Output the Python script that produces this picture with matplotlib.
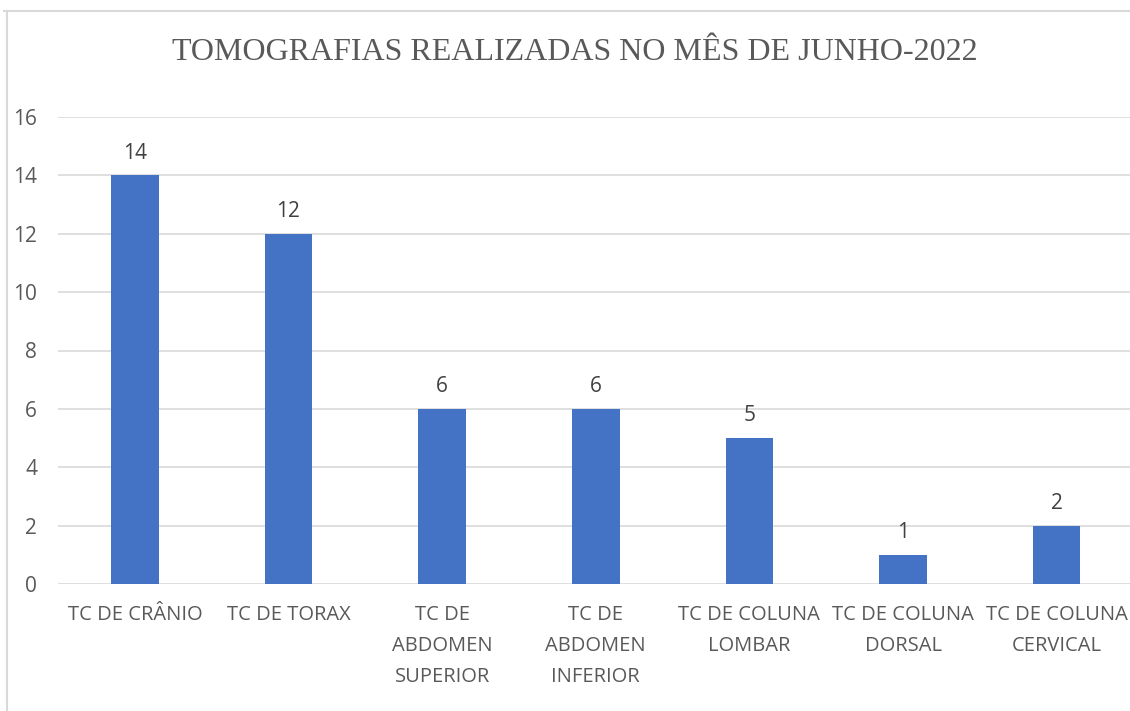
import matplotlib
matplotlib.use("Agg")
import matplotlib.pyplot as plt
from matplotlib.lines import Line2D

categories = ["TC DE CRÂNIO", "TC DE TORAX", "TC DE\nABDOMEN\nSUPERIOR", "TC DE\nABDOMEN\nINFERIOR",
              "TC DE COLUNA\nLOMBAR", "TC DE COLUNA\nDORSAL", "TC DE COLUNA\nCERVICAL"]
values = [14, 12, 6, 6, 5, 1, 2]
yticks = [0, 2, 4, 6, 8, 10, 12, 14, 16]
title = "TOMOGRAFIAS REALIZADAS NO MÊS DE JUNHO-2022"

W, H = 1130, 711
fig = plt.figure(figsize=(W / 100, H / 100), dpi=100)
fig.patch.set_facecolor("white")

# chart border (light gray)
fig.add_artist(Line2D([7 / W, 7 / W], [0, 1 - 11 / H], color="#D9D9D9", lw=1.5, transform=fig.transFigure))
fig.add_artist(Line2D([4 / W, 1], [1 - 11 / H, 1 - 11 / H], color="#D9D9D9", lw=1.5, transform=fig.transFigure))

# axes: x from 58 to ~1133 px, y from 584 (0) to 117 (16)
x0, x1 = 58, 1133.5
y0, y1 = 584, 117
ax = fig.add_axes([x0 / W, 1 - y0 / H, (x1 - x0) / W, (y0 - y1) / H])
ax.set_facecolor("none")

xs = list(range(len(categories)))
ax.bar(xs, values, width=0.31, color="#4472C4", zorder=3)
ax.set_xlim(-0.5, len(categories) - 0.5)
ax.set_ylim(0, 16)
ax.set_yticks(yticks)
ax.yaxis.grid(True, color="#D9D9D9", lw=1.2, zorder=0)
ax.set_axisbelow(True)
for s in ax.spines.values():
    s.set_visible(False)
ax.tick_params(axis="both", length=0, colors="#595959")
ax.tick_params(axis="y", pad=15)
ax.tick_params(axis="x", pad=15)
ax.set_xticks(xs)
ax.set_xticklabels(categories, fontfamily="Open Sans", fontsize=14.5, color="#595959", linespacing=1.75)
for lbl in ax.get_yticklabels():
    lbl.set_fontfamily("Open Sans")
    lbl.set_fontsize(15)
    lbl.set_color("#595959")

for x, v in zip(xs, values):
    ax.annotate(str(v), (x, v), xytext=(0, 12), textcoords="offset points",
                ha="center", va="baseline", fontsize=15, color="#404040", fontfamily="Open Sans")

fig.text(575 / W, 1 - 52 / H, title, ha="center", va="center", fontsize=23,
         fontfamily="Liberation Serif", color="#595959")

fig.savefig("out.png", dpi=100, facecolor="white")
